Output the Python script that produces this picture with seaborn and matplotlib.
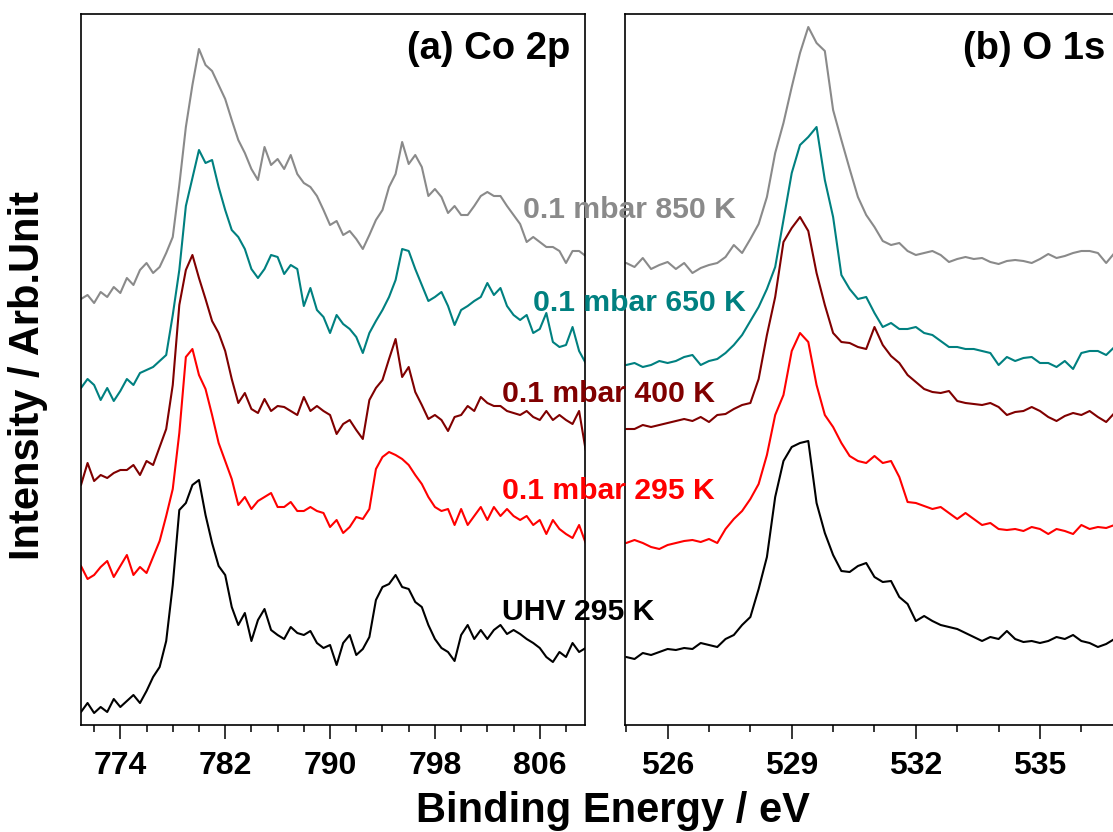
import numpy as np
import matplotlib
matplotlib.use("Agg")
import matplotlib.pyplot as plt
import seaborn as sns

# ---------------- data ----------------
co_energy = np.arange(771.0, 809.51, 0.5)          # eV, 78 points
o_energy = np.round(np.arange(525.0, 537.21, 0.2), 1)  # eV, 62 points

series_labels = ["UHV 295 K", "0.1 mbar 295 K", "0.1 mbar 400 K",
                 "0.1 mbar 650 K", "0.1 mbar 850 K"]
series_colors = ["#000000", "#ff0000", "#800000", "#008080", "#8a8a8a"]

co_ticks = [774, 782, 790, 798, 806]
o_ticks = [526, 529, 532, 535]

# Co 2p (stacked intensities, arb. units)
co_uhv = [13, 22, 12, 18, 13, 26, 18, 24, 30, 22, 34, 48, 58, 84, 140, 215, 222, 240, 245, 210, 182,
          159, 150, 118, 100, 112, 84, 105, 116, 95, 90, 86, 98, 92, 90, 94, 82, 77, 80, 60,
          82, 90, 70, 76, 88, 125, 138, 141, 150, 138, 136, 123, 118, 100, 86, 77, 73, 64, 90,
          100, 86, 95, 86, 95, 100, 91, 95, 91, 86, 82, 77, 68, 63, 73, 68, 82, 73, 77]
co_295 = [159, 146, 150, 158, 164, 148, 159, 170, 150, 158, 152, 168, 184, 209, 236, 292, 368, 376, 350, 336, 310,
          282, 264, 246, 220, 228, 216, 224, 228, 232, 218, 218, 223, 214, 214, 218, 214, 212, 198, 205,
          192, 198, 208, 206, 216, 256, 268, 273, 270, 266, 260, 250, 241, 228, 218, 214, 216, 200, 216,
          200, 209, 218, 205, 218, 209, 216, 209, 205, 209, 200, 205, 191, 205, 196, 191, 187, 200, 182]
co_400 = [240, 262, 244, 250, 247, 252, 255, 255, 260, 250, 264, 260, 278, 296, 340, 420, 455, 470, 447, 426, 404,
          392, 374, 346, 322, 332, 316, 312, 326, 314, 319, 318, 314, 310, 328, 314, 319, 314, 310, 291,
          301, 305, 295, 286, 325, 337, 345, 366, 386, 348, 358, 333, 320, 306, 310, 305, 294, 308, 310,
          319, 314, 328, 322, 319, 319, 314, 312, 310, 314, 308, 305, 314, 305, 310, 305, 301, 314, 275]
co_650 = [337, 346, 340, 325, 337, 324, 334, 346, 340, 352, 355, 358, 364, 370, 410, 455, 519, 547, 575, 562, 565,
          538, 515, 495, 488, 476, 456, 447, 456, 470, 468, 451, 460, 456, 419, 437, 415, 408, 392, 410,
          401, 396, 388, 372, 392, 404, 415, 428, 445, 476, 474, 456, 440, 424, 428, 433, 419, 400, 415,
          419, 424, 428, 442, 430, 437, 419, 410, 405, 410, 392, 396, 412, 383, 378, 380, 398, 374, 362]
co_850 = [426, 430, 422, 433, 428, 438, 432, 447, 440, 455, 462, 452, 458, 472, 488, 540, 598, 640, 676, 660, 654,
          640, 626, 605, 585, 572, 556, 545, 578, 560, 566, 556, 570, 551, 542, 538, 529, 515, 500, 504,
          490, 494, 486, 476, 490, 505, 515, 538, 551, 583, 561, 570, 558, 529, 536, 528, 512, 519, 510,
          510, 519, 529, 533, 529, 529, 519, 510, 501, 483, 488, 483, 478, 478, 474, 462, 474, 474, 469]

# O 1s (stacked intensities, arb. units)
o_uhv = [68, 66, 72, 70, 73, 76, 75, 77, 76, 82, 80, 78, 86, 90, 100, 108, 136, 168, 228, 264, 278,
         282, 284, 222, 192, 170, 154, 153, 159, 162, 148, 143, 144, 128, 121, 104, 109, 104, 100, 98, 96,
         92, 88, 84, 88, 86, 94, 86, 83, 84, 82, 84, 88, 86, 90, 84, 82, 78, 81, 86, 84, 82]
o_295 = [182, 185, 182, 178, 176, 180, 182, 184, 185, 183, 186, 182, 196, 206, 214, 226, 241, 270, 310, 330, 374,
         392, 383, 340, 310, 298, 282, 269, 264, 262, 269, 262, 264, 248, 223, 222, 219, 216, 218, 212, 206,
         212, 206, 200, 202, 196, 195, 196, 194, 198, 196, 191, 196, 194, 191, 200, 196, 198, 197, 200, 198, 196]
o_400 = [296, 296, 300, 298, 300, 302, 304, 306, 304, 308, 303, 310, 311, 316, 320, 322, 346, 390, 428, 483, 497,
         508, 494, 452, 420, 392, 383, 382, 378, 376, 398, 380, 369, 362, 350, 343, 336, 333, 332, 334, 324,
         322, 321, 320, 322, 318, 310, 313, 314, 318, 314, 308, 304, 309, 312, 310, 314, 308, 303, 312, 312, 314]
o_650 = [360, 362, 358, 360, 364, 362, 364, 368, 370, 360, 364, 366, 372, 380, 390, 404, 418, 436, 458, 505, 552,
         580, 588, 598, 545, 508, 450, 436, 426, 428, 412, 398, 402, 396, 396, 398, 392, 390, 384, 378, 378,
         376, 376, 374, 372, 360, 368, 364, 367, 368, 362, 362, 358, 364, 356, 372, 374, 374, 370, 378, 376, 380]
o_850 = [462, 458, 467, 456, 460, 463, 456, 462, 452, 457, 460, 462, 468, 480, 472, 486, 501, 528, 572, 602, 638,
         672, 698, 682, 674, 615, 585, 556, 528, 510, 498, 484, 480, 482, 474, 470, 472, 474, 470, 463, 466,
         468, 466, 467, 463, 461, 464, 465, 464, 462, 466, 471, 467, 469, 472, 474, 474, 472, 462, 472, 470, 472]

co_series = [co_uhv, co_295, co_400, co_650, co_850]
o_series = [o_uhv, o_295, o_400, o_650, o_850]

# ---------------- styling ----------------
sns.set_style("ticks")
plt.rcParams["font.family"] = ["Liberation Sans", "DejaVu Sans"]
plt.rcParams["font.weight"] = "bold"
plt.rcParams["text.color"] = "black"
plt.rcParams["axes.labelcolor"] = "black"
plt.rcParams["xtick.color"] = "black"
plt.rcParams["ytick.color"] = "black"

W, H = 1113, 832
fig = plt.figure(figsize=(W / 100, H / 100), dpi=100)
ax1 = fig.add_axes([81 / W, 107 / H, 504 / W, 711 / H])
ax2 = fig.add_axes([625 / W, 107 / H, 506 / W, 711 / H])

for vals, col in zip(co_series, series_colors):
    sns.lineplot(x=co_energy, y=vals, ax=ax1, color=col, linewidth=1.5,
                 estimator=None, sort=False, legend=False)
for vals, col in zip(o_series, series_colors):
    sns.lineplot(x=o_energy, y=vals, ax=ax2, color=col, linewidth=1.5,
                 estimator=None, sort=False, legend=False)

ax1.set_xlim(771.0, 809.45)
ax2.set_xlim(524.97, 537.2)
for ax in (ax1, ax2):
    ax.set_ylim(0, 711)
    ax.set_yticks([])
    ax.set_xlabel("")
    ax.set_ylabel("")
    for sp in ax.spines.values():
        sp.set_linewidth(1.2)
        sp.set_color("black")
    ax.tick_params(axis="x", which="major", direction="out", length=10, width=1.1,
                   labelsize=23, pad=9, colors="black", labelcolor="black")
    ax.tick_params(axis="x", which="minor", direction="out", length=5, width=1.1,
                   colors="black")

ax1.set_xticks(co_ticks)
ax1.set_xticks(np.arange(772, 810, 2), minor=True)
ax1.set_xticklabels([str(t) for t in co_ticks], fontweight="bold", color="black")
ax2.set_xticks(o_ticks)
ax2.set_xticks(np.arange(525, 538, 1), minor=True)
ax2.set_xticklabels([str(t) for t in o_ticks], fontweight="bold", color="black")
ax2.spines["right"].set_visible(False)

ax1.text(0.970, 0.951, "(a) Co 2p", transform=ax1.transAxes, ha="right", va="center",
         fontsize=27.5, fontweight="bold", color="black")
ax2.text(0.950, 0.951, "(b) O 1s", transform=ax2.transAxes, ha="right", va="center",
         fontsize=27.5, fontweight="bold", color="black")

label_pos = [(502, 612), (502, 491), (502, 394), (533, 303), (523, 210)]
for (px, py), lab, col in zip(label_pos, series_labels, series_colors):
    fig.text(px / W, 1 - py / H, lab, color=col, ha="left", va="center",
             fontsize=21.7, fontweight="bold")

fig.text(613 / W, 10 / H, "Binding Energy / eV", ha="center", va="baseline",
         fontsize=30, fontweight="bold", color="black")
fig.text(28 / W, 1 - 376 / H, "Intensity / Arb.Unit", rotation=90, ha="center",
         va="center", fontsize=30, fontweight="bold", color="black")

fig.savefig("out.png", dpi=100)
